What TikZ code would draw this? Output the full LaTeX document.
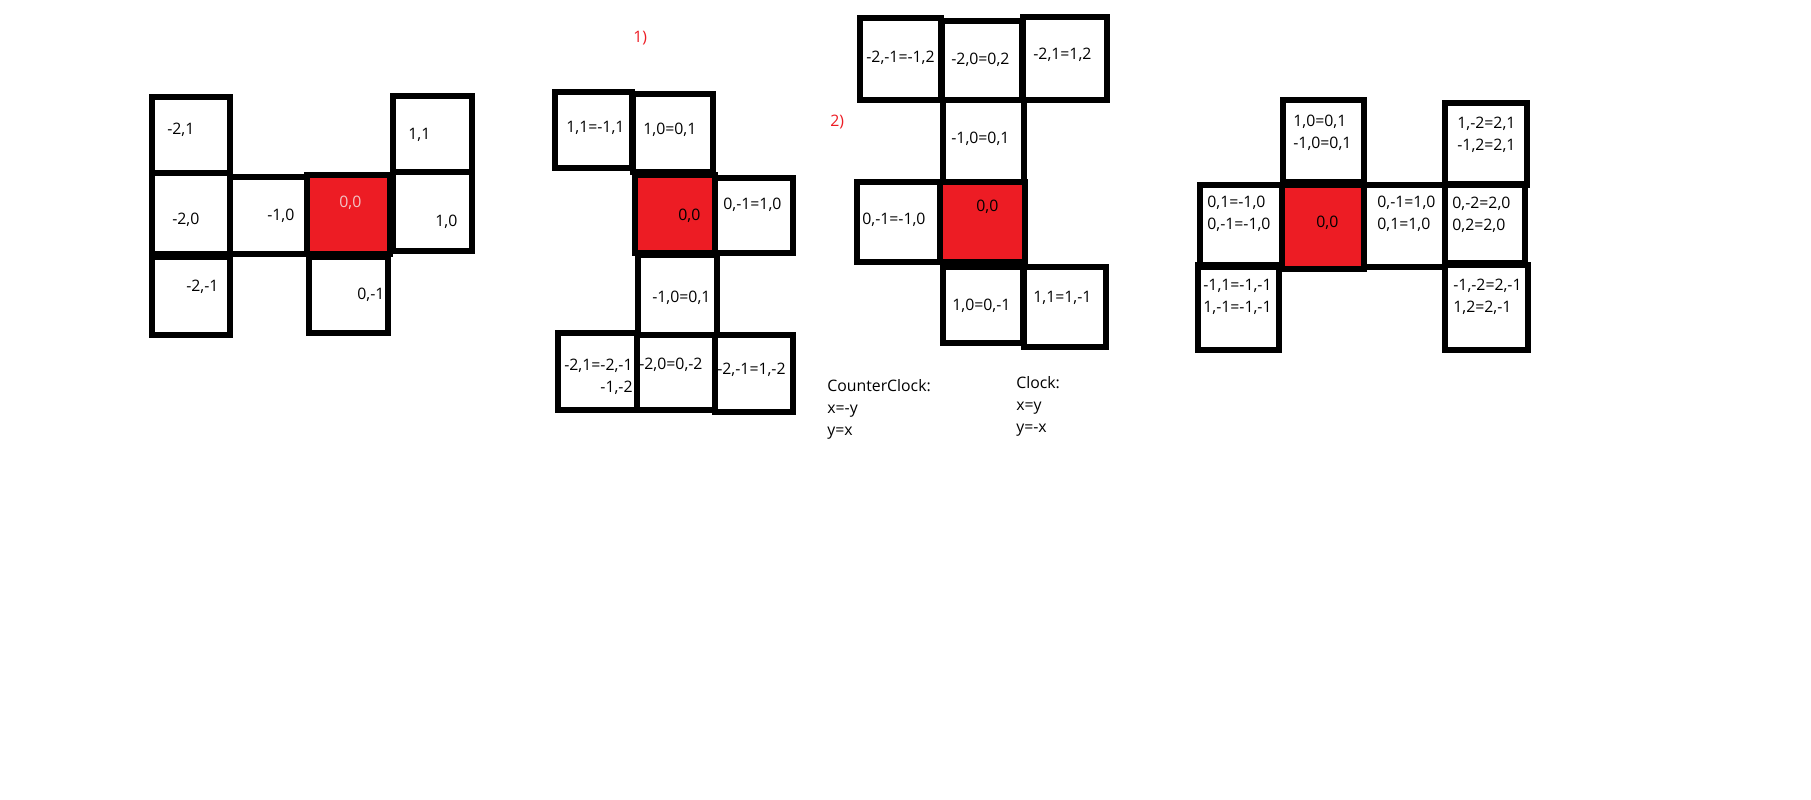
\documentclass[tikz,border=0pt]{standalone}
\usepackage{fontspec}
\setmainfont{Open Sans}
\definecolor{paintred}{HTML}{ED1C24}
\definecolor{palepink}{HTML}{F2C4C6}
\tikzset{
  cell/.style={line width=3pt},
  redcell/.style={line width=3.6pt, fill=paintred},
  lbl/.style={inner sep=0pt, anchor=west, align=left, font=\fontsize{9}{12.5}\selectfont},
  tag/.style={inner sep=0pt, anchor=west, text=paintred, font=\fontsize{9}{12.5}\selectfont},
}
\begin{document}
\begin{tikzpicture}[x=0.02cm, y=-0.02cm]
		\fill[white] (0,0) rectangle (1811,800);
		\useasboundingbox (0,0) rectangle (1811,800);
		
		% 原始形状
		\draw[cell] (152,97) rectangle (230,173);
		\draw[cell] (152,173) rectangle (230,254);
		\draw[cell] (230,177) rectangle (307,254);
		\draw[cell] (393,96) rectangle (472,172);
		\draw[cell] (393,172) rectangle (472,251);
		\draw[cell] (152,257) rectangle (230,335);
		\draw[cell] (309,257) rectangle (388,333);
		\draw[redcell] (307,175) rectangle (390,254);
		\node[lbl] (a1) at (167,130) {-2,1};
		\node[lbl] (a2) at (172,220) {-2,0};
		\node[lbl] (a3) at (267,216) {-1,0};
		\node[lbl, text=palepink] (a4) at (339,203) {0,0};
		\node[lbl] (a5) at (408,135) {1,1};
		\node[lbl] (a6) at (435,222) {1,0};
		\node[lbl] (a7) at (186,287) {-2,-1};
		\node[lbl] (a8) at (357,295) {0,-1};
		
		% 1) 第一次旋转
		\node[tag] (t1) at (633,38) {1)};
		\draw[cell] (555,92) rectangle (632,168);
		\draw[cell] (633,94) rectangle (713,172);
		\draw[cell] (715,178) rectangle (793,253);
		\draw[cell] (638,255) rectangle (717,335);
		\draw[cell] (558,333) rectangle (637,410);
		\draw[cell] (637,335) rectangle (715,410);
		\draw[cell] (715,335) rectangle (793,412);
		\draw[redcell] (635,175) rectangle (715,253);
		\node[lbl] (b1) at (566,128) {1,1=-1,1};
		\node[lbl] (b2) at (643,130) {1,0=0,1};
		\node[lbl] (b3) at (678,216) {0,0};
		\node[lbl] (b4) at (723,205) {0,-1=1,0};
		\node[lbl] (b5) at (652,298) {-1,0=0,1};
		\node[lbl, align=right] (b6) at (564,377) {-2,1=-2,-1\\-1,-2};
		\node[lbl] (b7) at (639,365) {-2,0=0,-2};
		\node[lbl] (b8) at (717,370) {-2,-1=1,-2};
		
		% 2) 第二次旋转
		\node[tag] (t2) at (830,122) {2)};
		\draw[cell] (860,18) rectangle (941,100);
		\draw[cell] (942,21) rectangle (1022,100);
		\draw[cell] (1023,17) rectangle (1107,100);
		\draw[cell] (943,100) rectangle (1024,182);
		\draw[cell] (857,182) rectangle (940,262);
		\draw[cell] (943,267) rectangle (1023,343);
		\draw[cell] (1024,267) rectangle (1106,347);
		\draw[redcell] (940,182) rectangle (1025,262);
		\node[lbl] (c1) at (866,58) {-2,-1=-1,2};
		\node[lbl] (c2) at (951,60) {-2,0=0,2};
		\node[lbl] (c3) at (1033,55) {-2,1=1,2};
		\node[lbl] (c4) at (951,139) {-1,0=0,1};
		\node[lbl] (c5) at (976,207) {0,0};
		\node[lbl] (c6) at (862,220) {0,-1=-1,0};
		\node[lbl] (c7) at (952,306) {1,0=0,-1};
		\node[lbl] (c8) at (1033,298) {1,1=1,-1};
		
		% 旋转公式
		\node[lbl, anchor=north west] (ccw) at (827,379) {CounterClock:\\x=-y\\y=x};
		\node[lbl, anchor=north west] (cw) at (1016,376) {Clock:\\x=y\\y=-x};
		
		% 合并结果
		\draw[cell] (1283,100) rectangle (1364,182);
		\draw[cell] (1445,103) rectangle (1527,185);
		\draw[cell] (1200,185) rectangle (1282,267);
		\draw[cell] (1364,185) rectangle (1445,267);
		\draw[cell] (1445,184) rectangle (1525,263);
		\draw[cell] (1198,265) rectangle (1279,350);
		\draw[cell] (1445,265) rectangle (1528,350);
		\draw[redcell] (1282,185) rectangle (1364,269);
		\node[lbl] (d1) at (1293,133) {1,0=0,1\\-1,0=0,1};
		\node[lbl] (d2) at (1457,135) {1,-2=2,1\\-1,2=2,1};
		\node[lbl] (d3) at (1207,214) {0,1=-1,0\\0,-1=-1,0};
		\node[lbl] (d4) at (1316,223) {0,0};
		\node[lbl] (d5) at (1377,214) {0,-1=1,0\\0,1=1,0};
		\node[lbl] (d6) at (1452,215) {0,-2=2,0\\0,2=2,0};
		\node[lbl] (d7) at (1203,297) {-1,1=-1,-1\\1,-1=-1,-1};
		\node[lbl] (d8) at (1453,297) {-1,-2=2,-1\\1,2=2,-1};
	\end{tikzpicture}
\end{document}
